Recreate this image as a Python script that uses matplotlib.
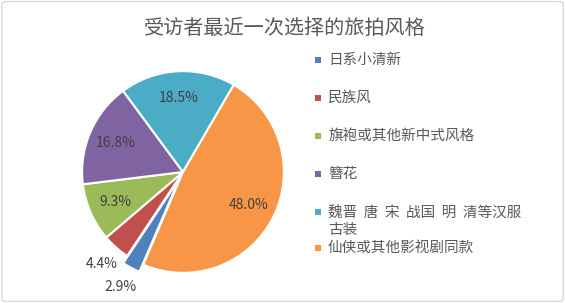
import matplotlib.pyplot as plt
from matplotlib.patches import Rectangle, FancyBboxPatch
import numpy as np

plt.rcParams['font.family'] = ['Noto Sans CJK SC', 'DejaVu Sans']

# data
styles = ['日系小清新', '民族风', '旗袍或其他新中式风格', '簪花',
          '魏晋  唐  宋  战国  明  清等汉服\n古装', '仙侠或其他影视剧同款']
shares = [2.9, 4.4, 9.3, 16.8, 18.5, 48.0]
colors = ['#4F81BD', '#C0504D', '#9BBB59', '#8064A2', '#4BACC6', '#F79646']

W, H = 565, 303
fig = plt.figure(figsize=(W / 100, H / 100), dpi=100)

# chart border
fig.patches.append(FancyBboxPatch((0.003, 0.005), 0.994, 0.99, boxstyle='round,pad=0,rounding_size=0.01',
                                  transform=fig.transFigure, fill=False,
                                  edgecolor='#d9d9d9', linewidth=1))

# pie axes: centre (183, 172) px, radius 97 px
cx, cy, r = 183, 172, 97
half = 1.3 * r
ax = fig.add_axes([(cx - half) / W, (H - cy - half) / H, 2 * half / W, 2 * half / H])
ax.set_xlim(-1.3, 1.3)
ax.set_ylim(-1.3, 1.3)
ax.axis('off')

explode = [0.08, 0, 0, 0, 0, 0]
wedges, texts = ax.pie(
    shares, colors=colors, explode=explode, startangle=-113.2, counterclock=False,
    wedgeprops=dict(edgecolor='white', linewidth=1.5))

# percentage labels
for i, (w, v) in enumerate(zip(wedges, shares)):
    ang = np.deg2rad((w.theta1 + w.theta2) / 2)
    if v < 5:
        d = 1.22 if i == 1 else 1.3
    else:
        d = 0.73
    ax.text(d * np.cos(ang), d * np.sin(ang), '%.1f%%' % v, ha='center', va='center',
            fontsize=10, color='#404040')

# title
fig.text(285 / W, 1 - 28 / H, '受访者最近一次选择的旅拍风格', ha='center', va='center',
         fontsize=14.5, color='#595959')

# legend
row_y = [60, 98, 136, 174, 222, 248]
for name, col, y in zip(styles, colors, row_y):
    top = y - 10 if '\n' in name else y
    fig.patches.append(Rectangle((315 / W, 1 - (top + 3) / H), 6 / W, 6 / H,
                                 transform=fig.transFigure, facecolor=col, edgecolor='none'))
    fig.text(328 / W, 1 - y / H, name, ha='left', va='center', fontsize=10.5,
             color='#595959', linespacing=1.25, multialignment='left')

fig.savefig('out.png', dpi=100)
